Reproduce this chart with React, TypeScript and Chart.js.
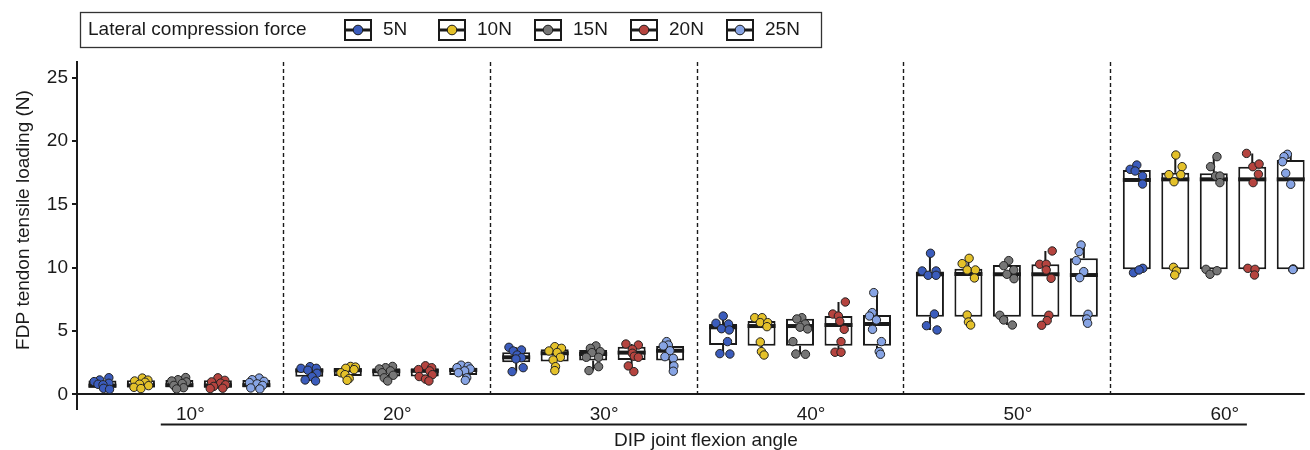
import React, { useEffect, useRef } from 'react';
import { Chart, registerables } from 'chart.js';

Chart.register(...registerables);

// ---------- data ----------
const angleLabels = ['10°', '20°', '30°', '40°', '50°', '60°'];
const forceLabels = ['5N', '10N', '15N', '20N', '25N'];
const legendTitle = 'Lateral compression force';
const xTitle = 'DIP joint flexion angle';
const yTitle = 'FDP tendon tensile loading (N)';
const yTicks = [0, 5, 10, 15, 20, 25];
const separators = [0.5, 1.5, 2.5, 3.5, 4.5];

// point values [angle][specimen]
const values5N = [
  [1.31, 1.13, 1.0, 0.87, 0.79, 0.75, 0.47, 0.39],
  [2.18, 2.05, 2.05, 1.9, 1.66, 1.39, 1.13, 1.05],
  [3.71, 3.5, 3.42, 3.1, 2.89, 2.79, 2.1, 1.79],
  [6.18, 5.61, 5.55, 5.18, 5.08, 4.16, 3.21, 3.18],
  [11.14, 9.74, 9.4, 9.74, 9.4, 6.34, 5.42, 5.08],
  [18.11, 17.77, 17.64, 17.24, 16.61, 9.95, 9.6, 9.82],
];
const values10N = [
  [1.28, 1.12, 1.05, 0.95, 0.8, 0.68, 0.55, 0.45],
  [2.2, 2.15, 2.05, 1.95, 1.7, 1.55, 1.25, 1.1],
  [3.76, 3.63, 3.42, 3.3, 2.92, 2.71, 2.18, 1.87],
  [6.05, 6.05, 5.66, 5.66, 5.34, 4.13, 3.37, 3.1],
  [10.74, 10.32, 9.82, 9.82, 9.19, 6.26, 5.71, 5.47],
  [18.9, 17.98, 17.35, 17.35, 16.79, 10.03, 9.74, 9.42],
];
const values15N = [
  [1.32, 1.15, 1.05, 0.98, 0.85, 0.7, 0.52, 0.42],
  [2.2, 2.1, 2.0, 1.85, 1.7, 1.5, 1.3, 1.05],
  [3.82, 3.63, 3.37, 3.29, 2.92, 2.92, 2.18, 1.87],
  [6.05, 5.95, 5.55, 5.3, 5.16, 4.16, 3.18, 3.16],
  [10.56, 10.16, 9.82, 9.48, 9.13, 6.24, 5.87, 5.47],
  [18.77, 17.98, 17.24, 17.24, 16.72, 9.87, 9.48, 9.76],
];
const values20N = [
  [1.3, 1.1, 0.98, 0.88, 0.75, 0.62, 0.48, 0.45],
  [2.25, 2.1, 1.95, 1.85, 1.55, 1.4, 1.2, 1.05],
  [3.97, 3.89, 3.55, 3.24, 3.0, 2.92, 2.24, 1.79],
  [7.29, 6.34, 6.18, 5.76, 5.13, 4.16, 3.32, 3.32],
  [11.32, 10.27, 10.27, 9.82, 9.16, 6.24, 5.82, 5.45],
  [19.03, 17.98, 18.19, 17.38, 16.72, 9.95, 9.87, 9.42],
];
const values25N = [
  [1.28, 1.15, 1.02, 0.92, 0.82, 0.7, 0.5, 0.42],
  [2.3, 2.2, 2.1, 2.0, 1.85, 1.7, 1.3, 1.1],
  [4.16, 3.89, 3.82, 3.44, 2.97, 2.84, 2.24, 1.82],
  [8.03, 6.45, 6.18, 5.87, 5.13, 4.16, 3.37, 3.16],
  [11.79, 11.27, 10.56, 9.69, 9.21, 6.32, 5.95, 5.61],
  [18.96, 18.77, 18.37, 17.46, 16.59, 9.9, 9.87, 9.85],
];

// horizontal jitter, as fraction of box half-width [angle][specimen]
const jitter5N = [
  [0.46, -0.2, -0.6, 0.46, -0.32, 0.04, 0.08, 0.51],
  [0.05, -0.6, 0.5, -0.1, 0.55, 0.2, -0.3, 0.45],
  [-0.52, 0.38, -0.21, 0.07, 0.38, -0.02, 0.5, -0.29],
  [0.01, -0.51, 0.39, -0.11, 0.44, 0.32, -0.23, 0.49],
  [0.04, -0.56, -0.13, 0.44, 0.44, 0.32, -0.25, 0.51],
  [0, -0.48, -0.12, 0.41, 0.41, 0.43, -0.24, 0.16],
];
const jitter10N = [
  [0.1, 0.5, -0.45, 0.3, -0.1, 0.55, -0.5, 0.0],
  [0.2, 0.55, -0.15, 0.45, -0.5, -0.2, 0.1, -0.05],
  [0.01, 0.49, -0.41, 0.18, 0.41, -0.11, 0.06, 0.01],
  [-0.49, 0.04, -0.09, 0.44, 0.39, -0.09, -0.01, 0.18],
  [0.05, -0.45, -0.09, 0.5, 0.43, -0.09, 0, 0.16],
  [0.04, 0.49, -0.46, 0.39, -0.09, -0.13, 0.09, -0.04],
];
const jitter15N = [
  [0.45, -0.1, -0.55, 0.5, 0.2, -0.4, 0.3, -0.2],
  [0.45, -0.05, -0.5, 0.3, -0.3, 0.5, -0.15, 0.1],
  [0.2, -0.2, 0.51, -0.09, -0.49, 0.39, 0.39, -0.3],
  [0.13, -0.23, 0.37, 0, 0.54, -0.51, -0.3, 0.39],
  [0.13, -0.23, 0.49, 0, 0.51, -0.51, -0.23, 0.39],
  [0.23, -0.23, 0.13, 0.44, 0.44, -0.56, -0.27, 0.23],
];
const jitter20N = [
  [0.0, 0.5, -0.45, 0.2, 0.55, -0.3, 0.35, -0.55],
  [0.05, 0.5, -0.45, 0.35, 0.55, -0.4, 0.05, 0.3],
  [-0.41, 0.48, 0.05, 0.05, 0.19, 0.48, -0.24, 0.16],
  [0.49, -0.41, -0.01, 0.09, 0.41, 0.18, -0.25, 0.18],
  [0.49, -0.41, 0.06, 0.06, 0.41, 0.25, 0.13, -0.27],
  [-0.41, 0.04, 0.49, 0.44, 0.06, -0.32, 0.2, 0.16],
];
const jitter25N = [
  [0.2, -0.3, 0.55, -0.5, 0.05, 0.45, -0.4, 0.25],
  [-0.15, 0.35, -0.45, 0.5, 0.1, -0.35, 0.25, 0.15],
  [-0.25, -0.13, -0.49, -0.01, -0.37, 0.23, 0.27, 0.23],
  [-0.23, -0.34, -0.54, -0.04, -0.32, 0.32, 0.16, 0.25],
  [-0.2, -0.34, -0.54, -0.01, -0.3, 0.3, 0.2, 0.27],
  [-0.24, -0.48, -0.59, -0.36, 0, 0.19, 0.14, 0.16],
];

// box statistics [angle][force]
const boxQ1 = [
  [0.52, 0.55, 0.55, 0.52, 0.55],
  [1.38, 1.45, 1.4, 1.4, 1.52],
  [2.53, 2.58, 2.66, 2.71, 2.66],
  [3.89, 3.84, 3.84, 3.84, 3.84],
  [6.13, 6.13, 6.13, 6.13, 6.13],
  [9.87, 9.87, 9.87, 9.87, 9.87],
];
const boxMedian = [
  [0.68, 0.7, 0.72, 0.7, 0.72],
  [1.88, 1.9, 1.82, 1.85, 1.92],
  [2.92, 3.24, 3.18, 3.29, 3.44],
  [5.29, 5.39, 5.39, 5.47, 5.55],
  [9.48, 9.5, 9.48, 9.48, 9.42],
  [16.93, 16.98, 16.98, 16.98, 16.98],
];
const boxQ3 = [
  [1.08, 1.1, 1.12, 1.1, 1.12],
  [2.05, 2.08, 2.05, 2.05, 2.1],
  [3.32, 3.55, 3.5, 3.76, 3.82],
  [5.55, 5.79, 5.97, 6.18, 6.26],
  [9.69, 9.92, 10.21, 10.27, 10.74],
  [17.72, 17.5, 17.46, 17.98, 18.51],
];

const forceValues = [values5N, values10N, values15N, values20N, values25N];
const forceJitter = [jitter5N, jitter10N, jitter15N, jitter20N, jitter25N];

// ---------- styling / layout ----------
const forceColors = ['#3b5cbc', '#e4c12a', '#767676', '#b5443f', '#87a4e4'];
const forceOffsets = [-0.372, -0.186, 0, 0.186, 0.372];
const INK = '#1a1a1a';
const FONT = '"Liberation Sans", Arial, Helvetica, sans-serif';
const FS = 19;
const BOX_PX = 28;
const X_MIN = -0.495;
const X_MAX = 5.44;
const Y_MIN = -0.69;
const Y_MAX = 26.25;
const JITTER_UNITS = 14 / 207.75;
const underlineRange = [-0.09, 5.16];
const legendKeyLeft = [343, 437, 533, 629, 725];
const AXIS_EXTEND = 7;

const decorPlugin = {
  id: 'decor',
  beforeDatasetsDraw(chart: any) {
    const { ctx, chartArea, scales } = chart;
    const x = scales.x;
    const y = scales.y;
    const y0 = y.getPixelForValue(0);
    ctx.save();
    ctx.strokeStyle = INK;
    ctx.lineWidth = 1.4;
    ctx.setLineDash([4, 3]);
    separators.forEach((s) => {
      const px = Math.round(x.getPixelForValue(s)) + 0.5;
      ctx.beginPath();
      ctx.moveTo(px, chartArea.top);
      ctx.lineTo(px, y0);
      ctx.stroke();
    });
    ctx.setLineDash([]);
    // whiskers
    ctx.lineWidth = 2;
    angleLabels.forEach((_, a) => {
      forceLabels.forEach((__, f) => {
        const vals = forceValues[f][a];
        const lo = Math.min(...vals);
        const hi = Math.max(...vals);
        const px = x.getPixelForValue(a + forceOffsets[f]);
        ctx.beginPath();
        ctx.moveTo(px, y.getPixelForValue(boxQ3[a][f]));
        ctx.lineTo(px, y.getPixelForValue(hi));
        ctx.moveTo(px, y.getPixelForValue(boxQ1[a][f]));
        ctx.lineTo(px, y.getPixelForValue(lo));
        ctx.stroke();
      });
    });
    ctx.restore();
  },
  afterDatasetDraw(chart: any, args: any) {
    if (args.index !== 0) return;
    const { ctx, scales } = chart;
    const x = scales.x;
    const y = scales.y;
    ctx.save();
    ctx.strokeStyle = INK;
    ctx.lineWidth = 4;
    angleLabels.forEach((_, a) => {
      forceLabels.forEach((__, f) => {
        const px = x.getPixelForValue(a + forceOffsets[f]);
        const py = y.getPixelForValue(boxMedian[a][f]);
        ctx.beginPath();
        ctx.moveTo(px - BOX_PX / 2, py);
        ctx.lineTo(px + BOX_PX / 2, py);
        ctx.stroke();
      });
    });
    ctx.restore();
  },
  afterDraw(chart: any) {
    const { ctx, scales, chartArea } = chart;
    const x = scales.x;
    const y = scales.y;
    ctx.save();
    ctx.strokeStyle = INK;
    // y axis line continues a little below the panel
    ctx.lineWidth = 2;
    ctx.beginPath();
    ctx.moveTo(y.right, chartArea.bottom - 1);
    ctx.lineTo(y.right, chartArea.bottom + AXIS_EXTEND);
    ctx.stroke();

    // underline below category labels
    ctx.beginPath();
    ctx.moveTo(x.getPixelForValue(underlineRange[0]), 424.5);
    ctx.lineTo(x.getPixelForValue(underlineRange[1]), 424.5);
    ctx.stroke();

    // axis titles
    ctx.fillStyle = INK;
    ctx.font = `${FS}px ${FONT}`;
    ctx.textAlign = 'center';
    ctx.textBaseline = 'middle';
    ctx.fillText(xTitle, 706, 441);
    ctx.save();
    ctx.translate(24, 220);
    ctx.rotate(-Math.PI / 2);
    ctx.fillText(yTitle, 0, 0);
    ctx.restore();

    // legend
    ctx.lineWidth = 1.3;
    ctx.strokeStyle = '#333';
    ctx.strokeRect(80.5, 12.5, 741, 35);
    ctx.textAlign = 'left';
    ctx.fillText(legendTitle, 88, 30);
    forceLabels.forEach((lab, f) => {
      const kx = legendKeyLeft[f];
      ctx.strokeStyle = INK;
      ctx.lineWidth = 2;
      ctx.fillStyle = '#fff';
      ctx.fillRect(kx + 2, 20, 26, 20);
      ctx.strokeRect(kx + 2, 20, 26, 20);
      ctx.lineWidth = 3;
      ctx.beginPath();
      ctx.moveTo(kx + 2, 30);
      ctx.lineTo(kx + 28, 30);
      ctx.stroke();
      ctx.beginPath();
      ctx.arc(kx + 15, 30, 4.8, 0, Math.PI * 2);
      ctx.fillStyle = forceColors[f];
      ctx.fill();
      ctx.lineWidth = 1;
      ctx.stroke();
      ctx.fillStyle = INK;
      ctx.fillText(lab, kx + 40, 30);
    });
    ctx.restore();
  },
};

export default function App() {
  const ref = useRef<HTMLCanvasElement | null>(null);

  useEffect(() => {
    if (!ref.current) return;

    const boxData: any[] = [];
    angleLabels.forEach((_, a) => {
      forceLabels.forEach((__, f) => {
        boxData.push({ x: a + forceOffsets[f], y: [boxQ1[a][f], boxQ3[a][f]] });
      });
    });

    const pointSets = forceLabels.map((lab, f) => ({
      type: 'scatter' as const,
      label: lab,
      order: 0,
      data: angleLabels.flatMap((_, a) =>
        forceValues[f][a].map((v, k) => ({
          x: a + forceOffsets[f] + forceJitter[f][a][k] * JITTER_UNITS,
          y: v,
        }))
      ),
      pointRadius: 4.2,
      pointBorderWidth: 1,
      pointBorderColor: '#222',
      pointBackgroundColor: forceColors[f],
      backgroundColor: forceColors[f],
      borderColor: '#222',
    }));

    const chart = new Chart(ref.current, {
      type: 'scatter',
      data: {
        datasets: [
          {
            type: 'bar' as const,
            label: 'box',
            order: 1,
            data: boxData,
            barThickness: BOX_PX,
            backgroundColor: '#ffffff',
            borderColor: INK,
            borderWidth: 2,
            borderSkipped: false,
            inflateAmount: 0,
          } as any,
          ...pointSets,
        ],
      },
      options: {
        responsive: false,
        animation: false,
        events: [],
        layout: { padding: { top: 62, left: 0, right: 0, bottom: 0 } },
        plugins: {
          legend: { display: false },
          tooltip: { enabled: false },
          title: { display: false },
        },
        scales: {
          x: {
            type: 'linear',
            min: X_MIN,
            max: X_MAX,
            offset: false,
            grid: { display: false, drawTicks: false },
            border: { display: false },
            afterBuildTicks: (axis: any) => {
              axis.ticks = angleLabels.map((_, i) => ({ value: i }));
            },
            afterFit: (scale: any) => {
              scale.height = 47;
            },
            ticks: {
              callback: (v: any) => angleLabels[Math.round(Number(v))] ?? '',
              color: INK,
              font: { family: FONT, size: FS },
              padding: 0,
              labelOffset: 11,
              autoSkip: false,
              maxRotation: 0,
            },
          },
          y: {
            type: 'linear',
            min: Y_MIN,
            max: Y_MAX,
            afterBuildTicks: (axis: any) => {
              axis.ticks = yTicks.map((v) => ({ value: v }));
            },
            afterFit: (scale: any) => {
              scale.width = 77;
            },
            grid: {
              drawOnChartArea: true,
              drawTicks: true,
              tickLength: 5,
              lineWidth: 2,
              color: (c: any) => (c.tick && c.tick.value === 0 ? INK : 'rgba(0,0,0,0)'),
              tickColor: INK,
            },
            border: { display: true, color: INK, width: 2 },
            ticks: {
              color: INK,
              font: { family: FONT, size: FS },
              padding: 4,
            },
          },
        },
      },
      plugins: [decorPlugin],
    });

    return () => chart.destroy();
  }, []);

  return (
    <canvas
      ref={ref}
      width={1310}
      height={450}
      style={{ position: 'fixed', left: 0, top: 0, width: 1310, height: 450, display: 'block', background: '#fff' }}
    />
  );
}
